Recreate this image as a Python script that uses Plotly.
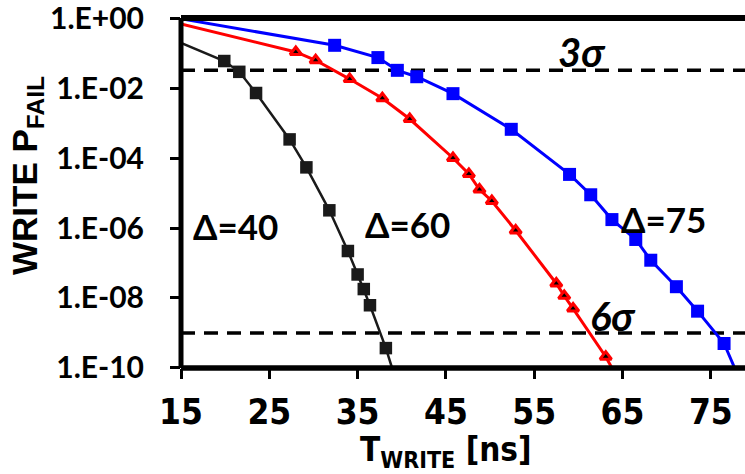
import plotly.graph_objects as go

# ---- data ----
black_x = [19.9, 21.6, 23.5, 27.3, 29.2, 31.8, 33.9, 35.0, 35.7, 36.4, 38.2]
black_p = [5.9e-2, 2.9e-2, 7.2e-3, 3.4e-4, 5.4e-5, 3.2e-6, 2.2e-7, 4.7e-8, 1.8e-8, 6.2e-9, 3.7e-10]
black_line_x = [15.0] + black_x + [38.9]
black_line_p = [1.95e-1] + black_p + [1e-10]

red_x = [28.0, 30.25, 34.1, 37.8, 40.9, 45.8, 47.6, 48.8, 50.2, 52.9, 57.5, 58.4, 59.4, 63.1]
red_p = [1.07e-1, 6.2e-2, 1.8e-2, 5.1e-3, 1.3e-3, 1.0e-4, 3.5e-5, 1.26e-5, 5.9e-6, 8.5e-7,
         2.6e-8, 1.15e-8, 5.0e-9, 2.1e-10]
red_line_x = [15.0] + red_x + [63.8]
red_line_p = [6.8e-1] + red_p + [1e-10]

blue_x = [32.4, 37.3, 39.5, 41.7, 45.8, 52.4, 59.0, 61.4, 63.8, 66.5, 68.2, 71.1, 73.5, 76.5]
blue_p = [1.66e-1, 7.4e-2, 3.2e-2, 2.1e-2, 6.9e-3, 6.6e-4, 3.4e-5, 8.9e-6, 1.74e-6, 4.7e-7,
          1.2e-7, 2.1e-8, 4.2e-9, 5.0e-10]
blue_line_x = [15.0] + blue_x + [77.7]
blue_line_p = [9.5e-1] + blue_p + [1e-10]

sigma3_p = 3.2e-2
sigma6_p = 1e-9

x_range = [15, 78.87]
x_ticks = [15, 25, 35, 45, 55, 65, 75]
y_tickvals = [1, 1e-2, 1e-4, 1e-6, 1e-8, 1e-10]
y_ticktext = ["1.E+00", "1.E-02", "1.E-04", "1.E-06", "1.E-08", "1.E-10"]

BLACK = "#1a1a1a"
RED = "#ff0000"
BLUE = "#0000ff"

fig = go.Figure()

# dashed sigma lines
for p in (sigma3_p, sigma6_p):
    fig.add_trace(go.Scatter(x=x_range, y=[p, p], mode="lines",
                             line=dict(color="black", width=3.5, dash="14px,9px"),
                             hoverinfo="skip", showlegend=False))

# black (Delta=40)
fig.add_trace(go.Scatter(x=black_line_x, y=black_line_p, mode="lines",
                         line=dict(color=BLACK, width=2.5), showlegend=False))
fig.add_trace(go.Scatter(x=black_x, y=black_p, mode="markers",
                         marker=dict(symbol="square", size=12.5, color=BLACK), showlegend=False))

# red (Delta=60)
fig.add_trace(go.Scatter(x=red_line_x, y=red_line_p, mode="lines",
                         line=dict(color=RED, width=3), showlegend=False))
fig.add_trace(go.Scatter(x=red_x, y=red_p, mode="markers",
                         marker=dict(symbol="triangle-up", size=10, color="black",
                                     line=dict(color=RED, width=3)), showlegend=False))

# blue (Delta=75)
fig.add_trace(go.Scatter(x=blue_line_x, y=blue_line_p, mode="lines",
                         line=dict(color=BLUE, width=3), showlegend=False))
fig.add_trace(go.Scatter(x=blue_x, y=blue_p, mode="markers",
                         marker=dict(symbol="square", size=13, color=BLUE), showlegend=False))

# frame lines
for s in [dict(x0=0, x1=1, y0=0, y1=0, w=5.5),
          dict(x0=0, x1=1, y0=1, y1=1, w=6),
          dict(x0=0, x1=0, y0=0, y1=1, w=5)]:
    fig.add_shape(type="line", xref="paper", yref="paper", x0=s["x0"], x1=s["x1"],
                  y0=s["y0"], y1=s["y1"], line=dict(color="black", width=s["w"]), layer="above")

lab_font = dict(family="Lato, Calibri, sans-serif", size=35, color="black")
sig_font = dict(family="Lato, Calibri, sans-serif", size=40, color="black")
for txt, px, py, f in [("<b>Δ=40</b>", 235, 225.5, lab_font), ("<b>Δ=60</b>", 407, 223.5, lab_font),
                       ("<b>Δ=75</b>", 663, 218.5, lab_font), ("<b><i>3σ</i></b>", 581.7, 52.3, sig_font),
                       ("<b><i>6σ</i></b>", 612.5, 316, sig_font)]:
    fig.add_annotation(text=txt, xref="paper", yref="paper",
                       x=(px - 181) / 564, y=(368 - py) / 350,
                       xanchor="center", yanchor="middle", showarrow=False, font=f)

# axis titles
fig.add_annotation(text="<b>WRITE P<sub>FAIL</sub></b>", xref="paper", yref="paper",
                   x=(27 - 181) / 564, y=(368 - 176) / 350, textangle=-90,
                   xanchor="center", yanchor="middle", showarrow=False,
                   font=dict(family="Liberation Sans, Arial, sans-serif", size=35, color="black"))
fig.add_annotation(text="<b>T<sub>WRITE</sub> [ns]</b>", xref="paper", yref="paper",
                   x=(445.5 - 181) / 564, y=(368 - 451) / 350,
                   xanchor="center", yanchor="middle", showarrow=False,
                   font=dict(family="Liberation Sans Narrow, Arial Narrow, DejaVu Sans Condensed, sans-serif",
                             size=33, color="black"))

fig.update_layout(
    width=745, height=474,
    margin=dict(l=181, r=0, t=18, b=106),
    paper_bgcolor="white", plot_bgcolor="white",
    xaxis=dict(range=x_range, tickvals=x_ticks, showgrid=False, zeroline=False, showline=False,
               ticks="outside", ticklen=10, tickwidth=2.5, tickcolor="black",
               ticklabelstandoff=3,
               tickfont=dict(family="Liberation Sans Narrow, Arial Narrow, DejaVu Sans Condensed, sans-serif",
                             size=35, color="black", weight="bold")),
    yaxis=dict(type="log", range=[-10.0005, 0.0005], tickvals=y_tickvals, ticktext=y_ticktext,
               showgrid=False, zeroline=False, showline=False,
               ticks="outside", ticklen=10, tickwidth=2.5, tickcolor="black",
               ticklabelstandoff=20, ticklabeloverflow="allow",
               tickfont=dict(family="Lato, Calibri, sans-serif", size=30, color="black", weight="bold")),
)

fig.write_html("out.html")
